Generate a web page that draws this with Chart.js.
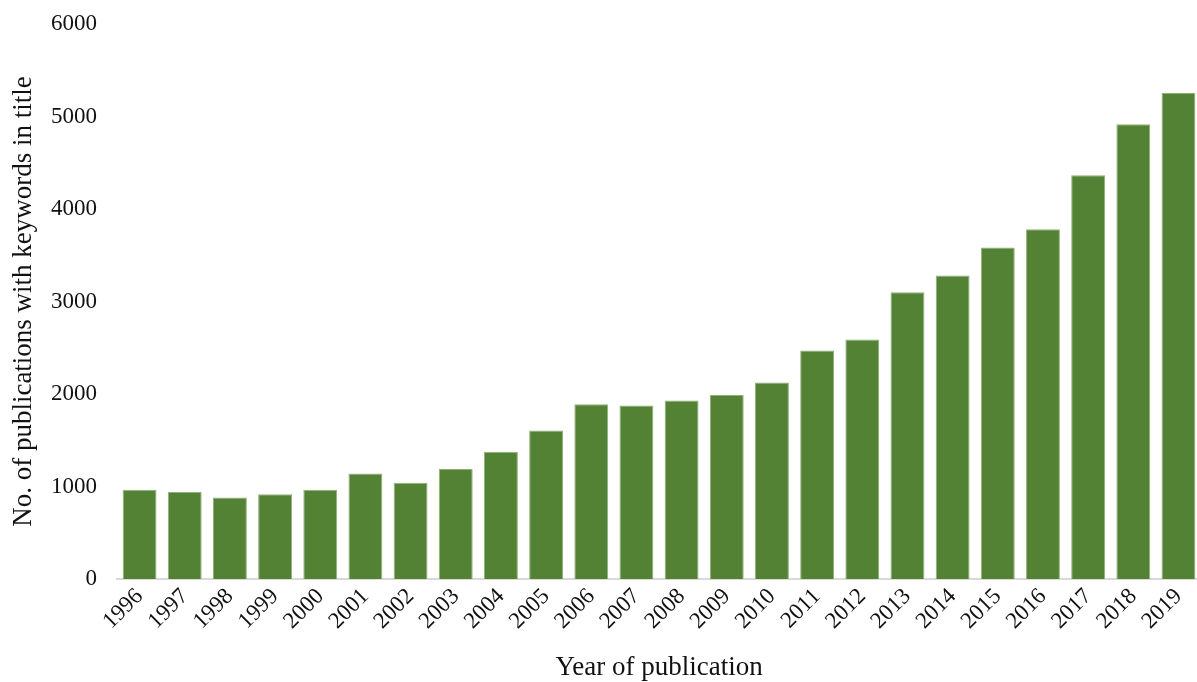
<!DOCTYPE html>
<html>
<head>
<meta charset="utf-8">
<script src="https://cdn.jsdelivr.net/npm/chart.js@4.4.0/dist/chart.umd.min.js"></script>
<style>
  html, body { margin: 0; padding: 0; background: #fff; overflow: hidden; }
  #wrap { width: 1202px; height: 682px; }
</style>
</head>
<body>
<div id="wrap"><canvas id="barChart"></canvas></div>
<script>
const years = ['1996', '1997', '1998', '1999', '2000', '2001', '2002', '2003', '2004', '2005', '2006', '2007',
    '2008', '2009', '2010', '2011', '2012', '2013', '2014', '2015', '2016', '2017', '2018', '2019'];
const publications = [965, 940, 880, 915, 965, 1140, 1040, 1190, 1375, 1605, 1890, 1875,
    1930, 1990, 2125, 2470, 2590, 3100, 3280, 3585, 3780, 4365, 4915, 5255];
const yTicks = [0, 1000, 2000, 3000, 4000, 5000, 6000];

const serif = "'Liberation Serif', 'Times New Roman', serif";

const ctx = document.getElementById('barChart').getContext('2d');
new Chart(ctx, {
    type: 'bar',
    data: {
        labels: years,
        datasets: [{
            label: 'Publications',
            data: publications,
            backgroundColor: '#548235',
            borderColor: '#8fb07a',
            borderWidth: { top: 1, left: 1, right: 1, bottom: 0 },
            barPercentage: 0.75,
            categoryPercentage: 1.0
        }]
    },
    options: {
        responsive: true,
        maintainAspectRatio: false,
        animation: false,
        layout: { padding: 0 },
        plugins: {
            legend: { display: false },
            tooltip: { enabled: false }
        },
        scales: {
            x: {
                grid: { display: false, drawTicks: false },
                border: { display: true, color: '#d9d9d9', width: 2 },
                ticks: {
                    color: '#111',
                    font: { family: serif, size: 23 },
                    minRotation: 45,
                    maxRotation: 45,
                    padding: 4
                },
                title: {
                    display: true,
                    text: 'Year of publication',
                    color: '#111',
                    font: { family: serif, size: 27 },
                    padding: { top: 0, bottom: -2 }
                },
                afterFit: scale => { scale.height = 103; }
            },
            y: {
                min: 0,
                max: 6000,
                afterBuildTicks: scale => { scale.ticks = yTicks.map(v => ({ value: v })); },
                grid: { display: false, drawTicks: false },
                border: { display: false },
                ticks: {
                    color: '#111',
                    font: { family: serif, size: 23 },
                    padding: 20,
                    callback: v => String(v)
                },
                title: {
                    display: true,
                    text: 'No. of publications with keywords in title',
                    color: '#111',
                    font: { family: serif, size: 27 },
                    padding: { top: 8, bottom: 0 }
                },
                afterFit: scale => { scale.width = 117; scale.paddingTop = 24; }
            }
        }
    }
});
</script>
</body>
</html>
